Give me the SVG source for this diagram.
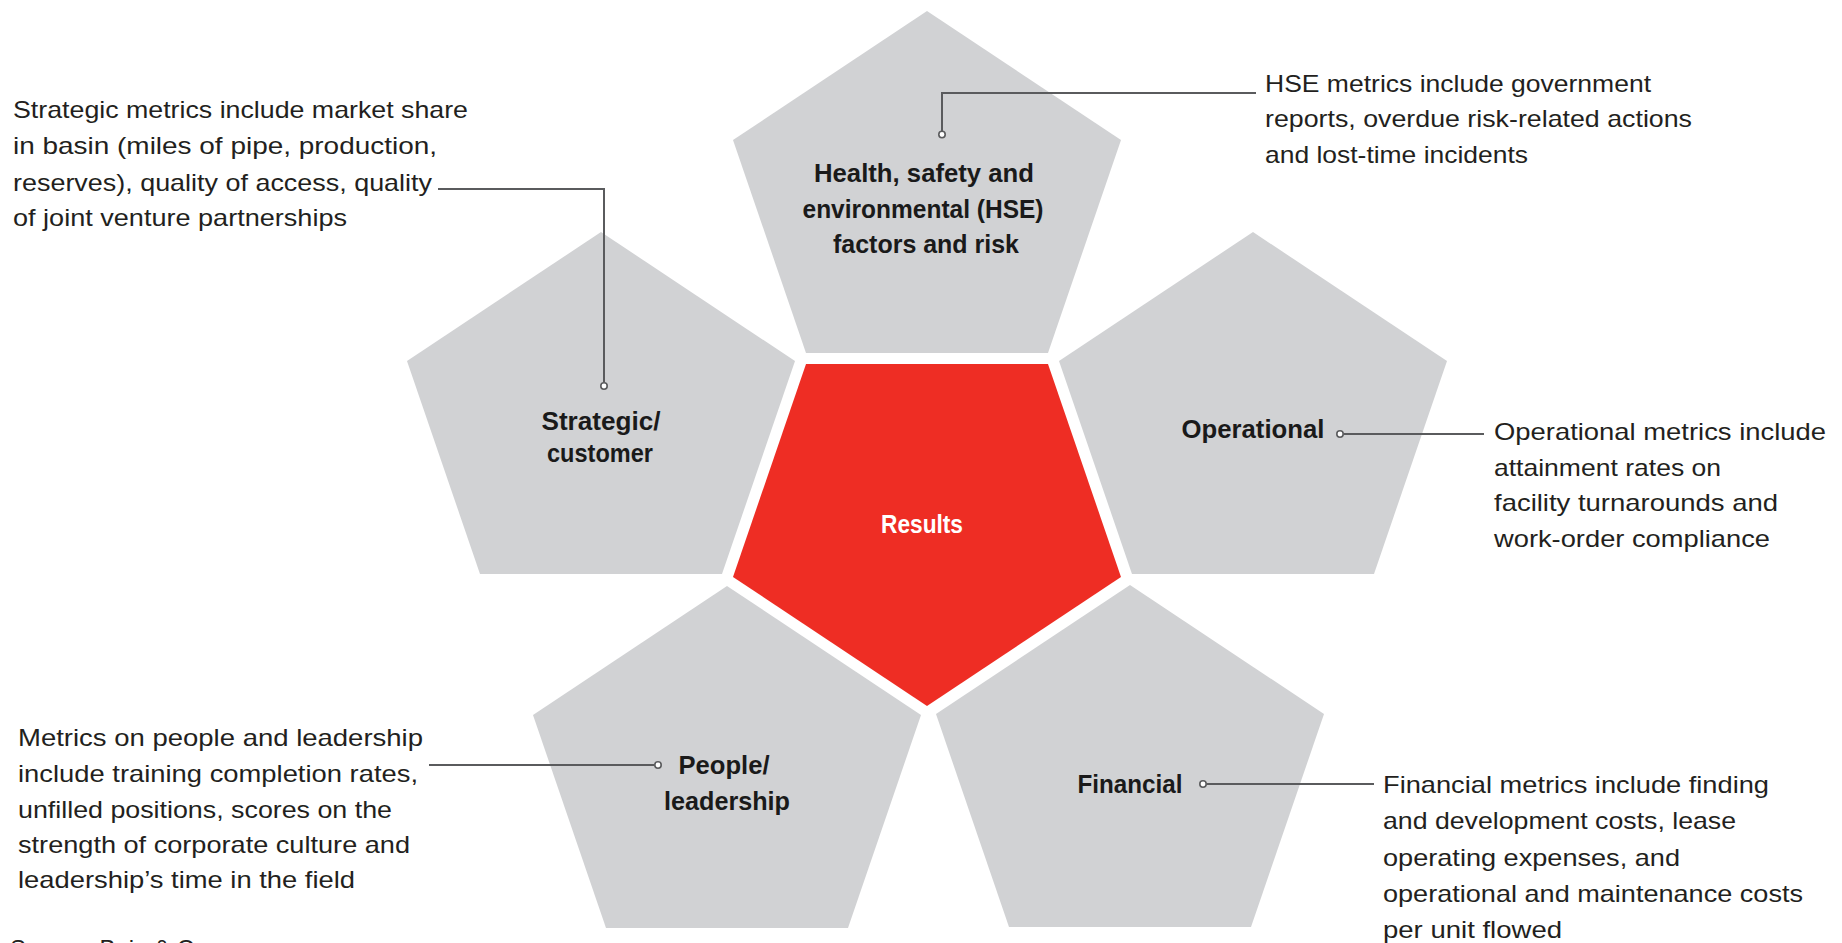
<svg xmlns="http://www.w3.org/2000/svg" xmlns:xlink="http://www.w3.org/1999/xlink" width="1842" height="943" viewBox="0 0 1842 943">
<style>
.pent{fill:#d1d2d4}
.core{fill:#ee2d24}
.lbl{font-family:"Liberation Sans",Arial,sans-serif;font-weight:bold;font-size:26px;fill:#1a1a1a;text-anchor:middle}
.lblw{fill:#ffffff}
.body{font-family:"Liberation Sans",Arial,sans-serif;font-size:24px;fill:#231f20}
.conn{fill:none;stroke:#5a5b5d;stroke-width:2}
.dot{fill:#ffffff;stroke:#5a5b5d;stroke-width:1.6}
</style>
<defs>
<polygon id="pent" points="0,0 194,129 121,342 -121,342 -194,129"/>
</defs>
<rect width="1842" height="943" fill="#ffffff"/>

<g id="node-hse">
<use xlink:href="#pent" class="pent" transform="translate(927,11)"/>
<text class="lbl" x="924" y="182" textLength="220" lengthAdjust="spacingAndGlyphs">Health, safety and</text>
<text class="lbl" x="923" y="218" textLength="241" lengthAdjust="spacingAndGlyphs">environmental (HSE)</text>
<text class="lbl" x="926" y="253" textLength="186" lengthAdjust="spacingAndGlyphs">factors and risk</text>
</g>

<g id="node-strategic">
<use xlink:href="#pent" class="pent" transform="translate(601,232)"/>
<text class="lbl" x="601" y="430" textLength="119" lengthAdjust="spacingAndGlyphs">Strategic/</text>
<text class="lbl" x="600" y="462" textLength="106" lengthAdjust="spacingAndGlyphs">customer</text>
</g>

<g id="node-operational">
<use xlink:href="#pent" class="pent" transform="translate(1253,232)"/>
<text class="lbl" x="1253" y="438" textLength="143" lengthAdjust="spacingAndGlyphs">Operational</text>
</g>

<g id="node-people">
<use xlink:href="#pent" class="pent" transform="translate(727,586)"/>
<text class="lbl" x="724" y="774" textLength="91" lengthAdjust="spacingAndGlyphs">People/</text>
<text class="lbl" x="727" y="810" textLength="126" lengthAdjust="spacingAndGlyphs">leadership</text>
</g>

<g id="node-financial">
<use xlink:href="#pent" class="pent" transform="translate(1130,585)"/>
<text class="lbl" x="1130" y="793" textLength="105" lengthAdjust="spacingAndGlyphs">Financial</text>
</g>

<g id="node-results">
<use xlink:href="#pent" class="core" transform="translate(927,706) scale(1,-1)"/>
<text class="lbl lblw" x="922" y="533" textLength="82" lengthAdjust="spacingAndGlyphs">Results</text>
</g>

<g id="connectors">
<path class="conn" d="M438,189 H604 V382"/>
<circle class="dot" cx="604" cy="386" r="3.2"/>
<path class="conn" d="M1256,93 H942 V131"/>
<circle class="dot" cx="942" cy="134.5" r="3.2"/>
<path class="conn" d="M1343.5,434 H1484"/>
<circle class="dot" cx="1340" cy="434" r="3.2"/>
<path class="conn" d="M429,765 H654.5"/>
<circle class="dot" cx="658" cy="765" r="3.2"/>
<path class="conn" d="M1206.5,784 H1374"/>
<circle class="dot" cx="1203" cy="784" r="3.2"/>
</g>

<g id="note-strategic">
<text class="body" x="13" y="118" textLength="455" lengthAdjust="spacingAndGlyphs">Strategic metrics include market share</text>
<text class="body" x="13" y="154" textLength="424" lengthAdjust="spacingAndGlyphs">in basin (miles of pipe, production,</text>
<text class="body" x="13" y="191" textLength="419" lengthAdjust="spacingAndGlyphs">reserves), quality of access, quality</text>
<text class="body" x="13" y="226" textLength="334" lengthAdjust="spacingAndGlyphs">of joint venture partnerships</text>
</g>

<g id="note-hse">
<text class="body" x="1265" y="92" textLength="386" lengthAdjust="spacingAndGlyphs">HSE metrics include government</text>
<text class="body" x="1265" y="127" textLength="427" lengthAdjust="spacingAndGlyphs">reports, overdue risk-related actions</text>
<text class="body" x="1265" y="163" textLength="263" lengthAdjust="spacingAndGlyphs">and lost-time incidents</text>
</g>

<g id="note-operational">
<text class="body" x="1494" y="440" textLength="332" lengthAdjust="spacingAndGlyphs">Operational metrics include</text>
<text class="body" x="1494" y="476" textLength="227" lengthAdjust="spacingAndGlyphs">attainment rates on</text>
<text class="body" x="1494" y="511" textLength="284" lengthAdjust="spacingAndGlyphs">facility turnarounds and</text>
<text class="body" x="1494" y="547" textLength="276" lengthAdjust="spacingAndGlyphs">work-order compliance</text>
</g>

<g id="note-people">
<text class="body" x="18" y="746" textLength="405" lengthAdjust="spacingAndGlyphs">Metrics on people and leadership</text>
<text class="body" x="18" y="782" textLength="400" lengthAdjust="spacingAndGlyphs">include training completion rates,</text>
<text class="body" x="18" y="818" textLength="374" lengthAdjust="spacingAndGlyphs">unfilled positions, scores on the</text>
<text class="body" x="18" y="853" textLength="392" lengthAdjust="spacingAndGlyphs">strength of corporate culture and</text>
<text class="body" x="18" y="888" textLength="337" lengthAdjust="spacingAndGlyphs">leadership’s time in the field</text>
</g>

<g id="note-financial">
<text class="body" x="1383" y="793" textLength="386" lengthAdjust="spacingAndGlyphs">Financial metrics include finding</text>
<text class="body" x="1383" y="829" textLength="353" lengthAdjust="spacingAndGlyphs">and development costs, lease</text>
<text class="body" x="1383" y="866" textLength="297" lengthAdjust="spacingAndGlyphs">operating expenses, and</text>
<text class="body" x="1383" y="902" textLength="420" lengthAdjust="spacingAndGlyphs">operational and maintenance costs</text>
<text class="body" x="1383" y="938" textLength="179" lengthAdjust="spacingAndGlyphs">per unit flowed</text>
</g>

<text class="body" x="10" y="957" font-size="20">Source: Bain &amp; Company</text>
</svg>
